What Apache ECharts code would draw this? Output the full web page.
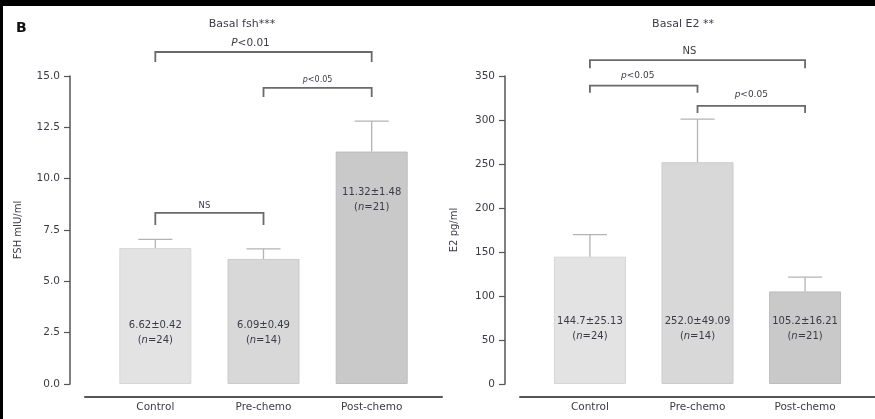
<!DOCTYPE html>
<html>
<head>
<meta charset="utf-8">
<script src="https://cdn.jsdelivr.net/npm/echarts@6/dist/echarts.min.js"></script>
<style>
html,body{margin:0;padding:0;background:#fff;}
#c{width:875px;height:419px;}
</style>
</head>
<body>
<div id="c"></div>
<script>
// ---- data ----
const categories = ['Control', 'Pre-chemo', 'Post-chemo'];
const fshMean = [6.62, 6.09, 11.32];
const fshSem = [0.42, 0.49, 1.48];
const fshN = [24, 14, 21];
const e2Mean = [144.7, 252.0, 105.2];
const e2Sem = [25.13, 49.09, 16.21];
const e2N = [24, 14, 21];
const fshTitle = 'Basal fsh***';
const e2Title = 'Basal E2 **';
const fshAxisName = 'FSH mIU/ml';
const e2AxisName = 'E2 pg/ml';
const fshAxisMax = 15, fshAxisStep = 2.5;
const e2AxisMax = 350, e2AxisStep = 50;
const fshPairs = [[0, 2, 'P<0.01'], [1, 2, 'p<0.05'], [0, 1, 'NS']];
const e2Pairs = [[0, 2, 'NS'], [0, 1, 'p<0.05'], [1, 2, 'p<0.05']];

// ---- layout / style (not data) ----
const barColors = ['#e3e3e3', '#d8d8d8', '#c9c9c9'];
const barBorders = ['#d6d6d6', '#cbcbcb', '#bdbdbd'];
const fshBracketLevels = [16.17, 14.42, 8.33];
const fshBracketStyle = [{leg: 10, gap: 9, size: 10.5, dx: -13}, {leg: 9, gap: 8, size: 8, dx: 0}, {leg: 12, gap: 7, size: 8.5, dx: -5}];
const e2BracketLevels = [368, 339, 316];
const e2BracketStyle = [{leg: 8, gap: 9, size: 10, dx: -8}, {leg: 7, gap: 10, size: 9, dx: -6}, {leg: 7, gap: 11, size: 9, dx: 0}];
const fshTextAt = [2.5, 2.5, 9.0];
const e2TextAt = [63, 63, 63];

const chart = echarts.init(document.getElementById('c'), null, {renderer: 'canvas'});
const FONT = '"DejaVu Sans", Verdana, sans-serif';
const AX = '#555';
const TXT = '#3b3b48';

function fmt(v, d) { return v.toFixed(d); }

function buildPanel(idx, opt) {
  const grids = {left: opt.left, top: 76, width: 357, height: 308};
  const xAxis = {
    gridIndex: idx, type: 'value', min: -0.65, max: 2.65, offset: 13,
    axisLine: {show: true, onZero: false, lineStyle: {color: AX, width: 2}},
    axisTick: {show: false}, splitLine: {show: false},
    axisLabel: {
      customValues: [0, 1, 2], margin: 5,
      formatter: v => categories[Math.round(v)] || '',
      color: TXT, fontSize: 10.5, fontFamily: FONT
    }
  };
  const yAxis = {
    gridIndex: idx, type: 'value', min: 0, max: opt.max, interval: opt.step, offset: 15,
    name: opt.name, nameLocation: 'middle', nameGap: opt.nameGap, nameRotate: 90,
    nameTextStyle: {color: TXT, fontSize: 10, fontFamily: FONT},
    axisLine: {show: true, onZero: false, lineStyle: {color: AX, width: 1.5}},
    axisTick: {show: true, length: 6, lineStyle: {color: AX, width: 1.2}},
    splitLine: {show: false},
    axisLabel: {margin: 10, color: TXT, fontSize: 10.5, fontFamily: FONT,
      formatter: v => opt.dec ? v.toFixed(1) : String(v)}
  };
  const series = [];
  series.push({
    type: 'bar', xAxisIndex: idx, yAxisIndex: idx, barWidth: 72, z: 2,
    data: opt.mean.map((m, i) => ({value: [i, m], itemStyle: {color: barColors[i], borderColor: barBorders[i], borderWidth: 1}})),
    silent: true, animation: false
  });
  series.push({
    type: 'custom', xAxisIndex: idx, yAxisIndex: idx, animation: false, silent: true, z: 3,
    data: opt.mean.map((m, i) => [i, m, opt.sem[i]]),
    renderItem: (params, api) => {
      const x = api.value(0), m = api.value(1), e = api.value(2);
      const p0 = api.coord([x, m]), p1 = api.coord([x, m + e]);
      const st = {stroke: '#b3b3b3', lineWidth: 1.3};
      return {type: 'group', children: [
        {type: 'line', shape: {x1: p0[0], y1: p0[1], x2: p1[0], y2: p1[1]}, style: st},
        {type: 'line', shape: {x1: p1[0] - 17, y1: p1[1], x2: p1[0] + 17, y2: p1[1]}, style: st}
      ]};
    }
  });
  series.push({
    type: 'custom', xAxisIndex: idx, yAxisIndex: idx, animation: false, silent: true, z: 5,
    data: opt.mean.map((m, i) => [i, opt.textAt[i]]),
    renderItem: (params, api) => {
      const i = params.dataIndex;
      const p = api.coord([api.value(0), api.value(1)]);
      const t = fmt(opt.mean[i], opt.meanDec) + '\u00b1' + fmt(opt.sem[i], 2);
      const st = {fontSize: 10, fontFamily: FONT, fill: TXT, align: 'center', verticalAlign: 'middle'};
      return {type: 'group', children: [
        {type: 'text', x: p[0], y: p[1] - 7, style: Object.assign({text: t}, st)},
        {type: 'text', x: p[0], y: p[1] + 8, style: {
          text: '{a|(}{i|n}{a|=' + opt.n[i] + ')}', align: 'center', verticalAlign: 'middle', fill: TXT,
          rich: {
            a: {fontSize: 10, fontFamily: FONT, fill: TXT},
            i: {fontSize: 10, fontFamily: FONT, fontStyle: 'italic', fill: TXT}
          }
        }}
      ]};
    }
  });
  series.push({
    type: 'custom', xAxisIndex: idx, yAxisIndex: idx, animation: false, silent: true, clip: false, z: 5,
    data: opt.pairs.map((p, k) => [p[0], opt.levels[k], p[1]]),
    renderItem: (params, api) => {
      const k = params.dataIndex;
      const st = opt.bstyle[k];
      const a = api.coord([api.value(0), api.value(1)]);
      const b = api.coord([api.value(2), api.value(1)]);
      const label = opt.pairs[k][2];
      let rt;
      if (label.charAt(0) === 'P' || label.charAt(0) === 'p') {
        rt = '{i|' + label.charAt(0) + '}{a|' + label.slice(1) + '}';
      } else {
        rt = '{a|' + label + '}';
      }
      return {type: 'group', children: [
        {type: 'polyline', shape: {points: [[a[0], a[1] + st.leg], [a[0], a[1]], [b[0], b[1]], [b[0], b[1] + st.leg]]},
          style: {stroke: '#6a6a6a', lineWidth: 1.8, fill: null}},
        {type: 'text', x: (a[0] + b[0]) / 2 + st.dx, y: a[1] - st.gap, style: {
          text: rt, align: 'center', verticalAlign: 'middle', fill: TXT,
          rich: {
            a: {fontSize: st.size, fontFamily: FONT, fill: TXT},
            i: {fontSize: st.size, fontFamily: FONT, fontStyle: 'italic', fill: TXT}
          }
        }}
      ]};
    }
  });
  return {grid: grids, xAxis, yAxis, series};
}

const p1 = buildPanel(0, {left: 85, max: fshAxisMax, step: fshAxisStep, name: fshAxisName, nameGap: 47, dec: true,
  mean: fshMean, sem: fshSem, n: fshN, meanDec: 2, textAt: fshTextAt, pairs: fshPairs, levels: fshBracketLevels, bstyle: fshBracketStyle});
const p2 = buildPanel(1, {left: 520, max: e2AxisMax, step: e2AxisStep, name: e2AxisName, nameGap: 46, dec: false,
  mean: e2Mean, sem: e2Sem, n: e2N, meanDec: 1, textAt: e2TextAt, pairs: e2Pairs, levels: e2BracketLevels, bstyle: e2BracketStyle});

chart.setOption({
  backgroundColor: '#fff',
  animation: false,
  title: [
    {text: fshTitle, left: 237, top: 14, textAlign: 'center', textStyle: {fontSize: 11, fontWeight: 'normal', color: TXT, fontFamily: FONT}},
    {text: e2Title, left: 678, top: 14, textAlign: 'center', textStyle: {fontSize: 11, fontWeight: 'normal', color: TXT, fontFamily: FONT}},
    {text: 'B', left: 11, top: 16, textStyle: {fontSize: 14, fontWeight: 'bold', color: '#111', fontFamily: FONT}}
  ],
  graphic: [
    {type: 'rect', left: 0, top: 0, shape: {width: 875, height: 6}, style: {fill: '#000'}, silent: true},
    {type: 'rect', left: 0, top: 0, shape: {width: 3, height: 419}, style: {fill: '#000'}, silent: true}
  ],
  grid: [p1.grid, p2.grid],
  xAxis: [p1.xAxis, p2.xAxis],
  yAxis: [p1.yAxis, p2.yAxis],
  series: p1.series.concat(p2.series)
});
</script>
</body>
</html>
